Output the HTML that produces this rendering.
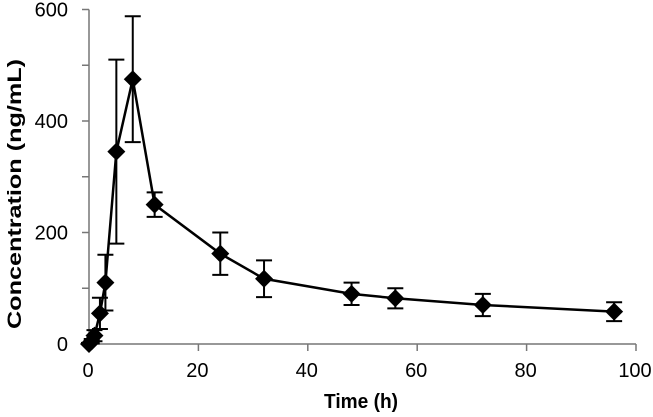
<!DOCTYPE html>
<html><head><meta charset="utf-8"><style>
html,body{margin:0;padding:0;background:#fff;width:653px;height:417px;overflow:hidden}
svg{font-family:"Liberation Sans",Arial,sans-serif}
</style></head><body>
<svg id="chart" width="653" height="417"></svg>
<script>
const times=[0,0.5,1,2,3,5,8,12,24,32,48,56,72,96];
const conc=[0,5,15,55,110,345,475,250,162,117,90,82,70,58];
const errs=[2,4,10,28,50,165,113,22,38,33,20,18,20,17];
const xTicks=[0,20,40,60,80,100];
const yTicks=[0,200,400,600];
const yMinor=[100,300,500];
const NS="http://www.w3.org/2000/svg";
const svg=document.getElementById('chart');
const X0=89,X1=636,Y0=344,Y1=9.5;
const xs=v=>X0+(X1-X0)*v/100;
const ys=v=>Y0-(Y0-Y1)*v/600;
function mk(t,a,p){const e=document.createElementNS(NS,t);for(const k in a)e.setAttribute(k,a[k]);(p||svg).appendChild(e);return e;}
let e;
e=mk('line',{x1:X0,y1:Y0,x2:X1,y2:Y0,stroke:'#777','stroke-width':1.5});


e=mk('line',{x1:X0,y1:Y0,x2:X0,y2:Y1,stroke:'#777','stroke-width':1.5});


xTicks.forEach(t=>{
 e=mk('line',{x1:xs(t),y1:Y0,x2:xs(t),y2:Y0+7,stroke:'#777','stroke-width':1.5});
 
 
 e=mk('text',{x:xs(t)-1,y:377,'text-anchor':'middle','font-size':20});e.textContent=t;
 
 
});
yTicks.forEach(t=>{
 e=mk('line',{x1:X0-7,y1:ys(t),x2:X0,y2:ys(t),stroke:'#777','stroke-width':1.5});
 
 
 e=mk('text',{x:68,y:ys(t)+7,'text-anchor':'end','font-size':20});e.textContent=t;
 
 
});
yMinor.forEach(t=>{
 e=mk('line',{x1:X0-7,y1:ys(t),x2:X0,y2:ys(t),stroke:'#777','stroke-width':1.5});
 
 
});
e=mk('text',{x:361,y:408,'text-anchor':'middle','font-size':20,'font-weight':'bold',textLength:74,lengthAdjust:'spacingAndGlyphs'});e.textContent='Time (h)';


e=mk('text',{x:0,y:0,'text-anchor':'middle','font-size':19,'font-weight':'bold',textLength:270,lengthAdjust:'spacingAndGlyphs',transform:'translate(21,194) rotate(-90)'});e.textContent='Concentration (ng/mL)';


times.forEach((t,i)=>{
 const x=xs(t),hi=ys(conc[i]+errs[i]),lo=ys(Math.max(0,conc[i]-errs[i]));
 const g=mk('g',{stroke:'#000','stroke-width':2});
 
 
 mk('line',{x1:x,y1:hi,x2:x,y2:lo},g);
 mk('line',{x1:x-8,y1:hi,x2:x+8,y2:hi},g);
 mk('line',{x1:x-8,y1:lo,x2:x+8,y2:lo},g);
});
e=mk('polyline',{points:times.map((t,i)=>xs(t)+','+ys(conc[i])).join(' '),fill:'none',stroke:'#000','stroke-width':2.5});


times.forEach((t,i)=>{
 const x=xs(t),y=ys(conc[i]),r=9;
 e=mk('polygon',{points:`${x},${y-r} ${x+r},${y} ${x},${y+r} ${x-r},${y}`,fill:'#000'});
 
 
});
</script>
</body></html>
